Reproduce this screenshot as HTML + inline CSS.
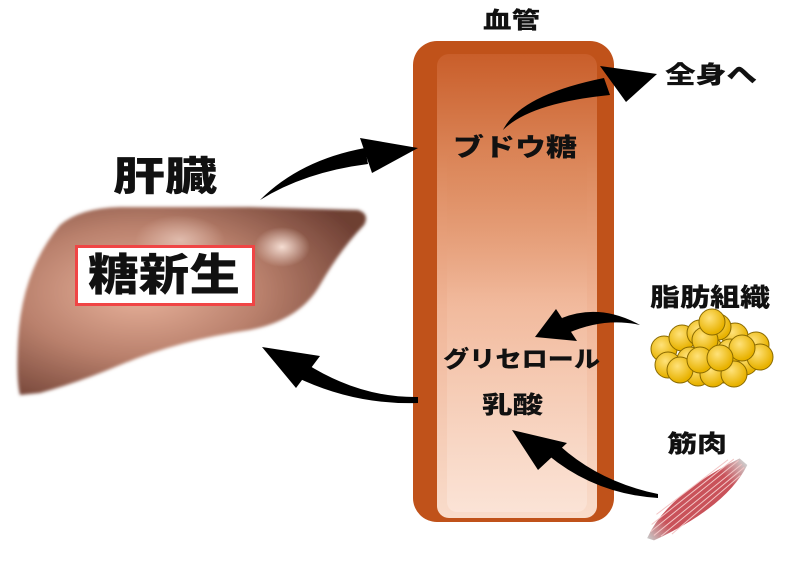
<!DOCTYPE html>
<html><head><meta charset="utf-8"><style>
html,body{margin:0;padding:0;background:#fff;width:797px;height:562px;overflow:hidden}
text{font-family:"Liberation Sans","Noto Sans CJK JP",sans-serif;font-weight:900;fill:#111}
</style></head><body>
<svg width="797" height="562" viewBox="0 0 797 562" xmlns="http://www.w3.org/2000/svg">
<defs>
<linearGradient id="inner" x1="0" y1="0" x2="0" y2="1">
<stop offset="0" stop-color="#c95e2a"/><stop offset="0.25" stop-color="#dd8a5e"/>
<stop offset="0.55" stop-color="#f0b597"/><stop offset="1" stop-color="#f9dccb"/></linearGradient>
<linearGradient id="core" x1="0" y1="0" x2="0" y2="1">
<stop offset="0" stop-color="#c96630" stop-opacity="0"/><stop offset="0.4" stop-color="#f4c3a8" stop-opacity="0.3"/>
<stop offset="1" stop-color="#fbe3d6"/></linearGradient>
<radialGradient id="liv" cx="0.35" cy="0.45" r="0.7">
<stop offset="0" stop-color="#e9b39c"/><stop offset="0.5" stop-color="#b9806c"/><stop offset="1" stop-color="#6e3f33"/></radialGradient>
<radialGradient id="hl" cx="0.5" cy="0.5" r="0.5"><stop offset="0" stop-color="#f5ddd2"/><stop offset="1" stop-color="#f5ddd2" stop-opacity="0"/></radialGradient>
<radialGradient id="fat" cx="0.4" cy="0.35" r="0.6"><stop offset="0" stop-color="#ffe27a"/><stop offset="1" stop-color="#e8b200"/></radialGradient>
<linearGradient id="mus" x1="0" y1="0" x2="1" y2="0"><stop offset="0" stop-color="#c8c8c8"/><stop offset="0.2" stop-color="#c9525a"/><stop offset="0.8" stop-color="#c9525a"/><stop offset="1" stop-color="#cfcfcf"/></linearGradient>
<filter id="blur"><feGaussianBlur stdDeviation="1.5"/></filter>
</defs>

<!-- vessel -->
<rect x="413" y="41" width="201" height="481" rx="24" fill="#c0521a"/>
<rect x="437" y="54" width="160" height="464" rx="12" fill="url(#inner)"/>
<rect x="447" y="150" width="140" height="362" rx="10" fill="url(#core)"/>

<!-- liver -->
<path filter="url(#blur)" d="M60,225 Q80,208 120,207 L250,207 L358,210 Q370,214 364,225 Q340,250 320,285 Q300,320 250,330 Q180,340 120,365 Q80,382 40,393 L20,395 Q16,380 18,340 Q22,270 60,225Z" fill="url(#liv)"/>
<ellipse cx="282" cy="247" rx="28" ry="20" fill="url(#hl)"/>
<ellipse cx="180" cy="240" rx="45" ry="25" fill="url(#hl)" opacity="0.6"/>
<rect x="76.5" y="246.5" width="177" height="58" fill="#fff" stroke="#f04545" stroke-width="3"/>
<text x="88" y="290" font-size="44" textLength="152" lengthAdjust="spacingAndGlyphs">糖新生</text>
<text x="113" y="190" font-size="40" textLength="104" lengthAdjust="spacingAndGlyphs">肝臓</text>

<!-- arrows -->
<g fill="#000">
<path d="M260,200 Q300,160 365,148 L368,164 Q305,172 260,200Z"/>
<polygon points="360,138 418,148 372,173"/>
<path d="M418,397 Q360,398 305,363 L298,378 Q355,405 418,403Z"/>
<polygon points="262,347 320,356 296,388"/>
<path d="M503,130 Q520,95 604,78 L610,95 Q530,103 503,130Z"/>
<polygon points="600,66 657,74 626,102"/>
<path d="M640,325 Q600,303 562,318 L568,333 Q605,317 640,325Z"/>
<polygon points="535,337 556,309 577,341"/>
<path d="M658,498 Q595,494 548,455 L560,446 Q600,482 658,494Z"/>
<polygon points="512,430 567,443 538,470"/>
</g>

<!-- labels -->
<text x="483" y="28" font-size="23" textLength="57" lengthAdjust="spacingAndGlyphs">血管</text>
<text x="665" y="83" font-size="24" textLength="92" lengthAdjust="spacingAndGlyphs">全身へ</text>
<text x="453" y="156" font-size="25" textLength="124" lengthAdjust="spacingAndGlyphs">ブドウ糖</text>
<text x="650" y="306" font-size="25" textLength="120" lengthAdjust="spacingAndGlyphs">脂肪組織</text>
<text x="443" y="367" font-size="23" textLength="157" lengthAdjust="spacingAndGlyphs">グリセロール</text>
<text x="482" y="413" font-size="24" textLength="61" lengthAdjust="spacingAndGlyphs">乳酸</text>
<text x="667" y="452" font-size="24" textLength="60" lengthAdjust="spacingAndGlyphs">筋肉</text>

<!-- fat -->
<g fill="url(#fat)" stroke="#8a6a00" stroke-width="1">
<circle cx="664" cy="349" r="13"/><circle cx="668" cy="365" r="13"/><circle cx="682" cy="338" r="13"/>
<circle cx="700" cy="333" r="13"/><circle cx="735" cy="336" r="13"/><circle cx="756" cy="345" r="13"/>
<circle cx="690" cy="360" r="13"/><circle cx="710" cy="350" r="13"/><circle cx="698" cy="373" r="13"/>
<circle cx="725" cy="370" r="13"/><circle cx="745" cy="362" r="13"/><circle cx="760" cy="357" r="13"/>
<circle cx="680" cy="370" r="13"/><circle cx="718" cy="327" r="13"/><circle cx="730" cy="352" r="13"/>
<circle cx="705" cy="340" r="13"/><circle cx="742" cy="348" r="13"/>
<circle cx="713" cy="374" r="13"/><circle cx="734" cy="374" r="13"/><circle cx="712" cy="322" r="13"/>
<circle cx="700" cy="360" r="13"/><circle cx="720" cy="358" r="13"/>
</g>

<!-- muscle -->
<g transform="translate(696,500) rotate(-38)">
<path d="M-62,0 Q-20,-22 60,-6 L62,4 Q20,24 -58,6Z" fill="url(#mus)"/>
<g stroke="#f3c5c5" stroke-width="1">
<line x1="-55" y1="-3" x2="58" y2="-5"/><line x1="-55" y1="2" x2="58" y2="0"/>
<line x1="-50" y1="7" x2="58" y2="4"/><line x1="-50" y1="-8" x2="55" y2="-9"/>
<line x1="-40" y1="12" x2="50" y2="8"/><line x1="-40" y1="-13" x2="50" y2="-12"/></g>
</g>
</svg>
</body></html>
